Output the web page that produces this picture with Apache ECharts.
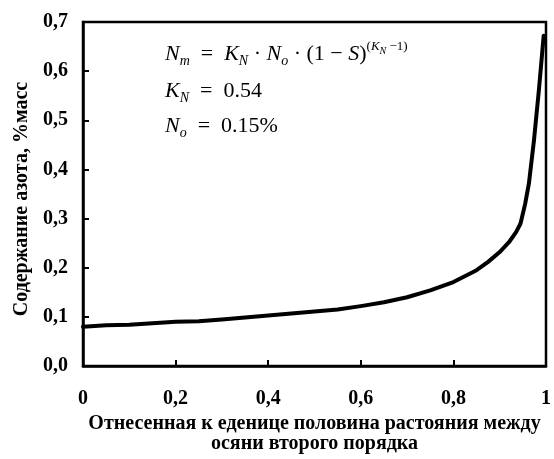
<!DOCTYPE html>
<html>
<head>
<meta charset="utf-8">
<script src="https://cdn.jsdelivr.net/npm/echarts@6/dist/echarts.min.js"></script>
<style>
  html, body { margin: 0; padding: 0; background: #fff; }
  #chart { width: 554px; height: 459px; }
</style>
</head>
<body>
<div id="chart"></div>
<script>
// доля расстояния S и содержание азота, %масс
const sValues = [0, 0.05, 0.1, 0.15, 0.2, 0.25, 0.3, 0.35, 0.4, 0.45, 0.5, 0.55, 0.6, 0.65, 0.7,
    0.75, 0.8, 0.85, 0.875, 0.9, 0.92, 0.935, 0.945, 0.955, 0.963, 0.974, 0.985, 0.995];
const nValues = [0.080, 0.083, 0.084, 0.087, 0.090, 0.091, 0.095, 0.099, 0.103, 0.107, 0.111, 0.115,
    0.122, 0.130, 0.140, 0.154, 0.171, 0.195, 0.212, 0.232, 0.252, 0.272, 0.290, 0.330, 0.371,
    0.459, 0.565, 0.672];

const xTickLabels = ['0', '0,2', '0,4', '0,6', '0,8', '1'];
const yTickLabels = ['0,0', '0,1', '0,2', '0,3', '0,4', '0,5', '0,6', '0,7'];

const FONT = '"Liberation Serif", "Times New Roman", serif';

let myChart = echarts.init(document.getElementById('chart'));

let seriesData = sValues.map((s, i) => [s, nValues[i]]);

// стили для формулы
let eqRich = {
    i: {fontFamily: FONT, fontStyle: 'italic', fontSize: 22, lineHeight: 28},
    r: {fontFamily: FONT, fontSize: 22, lineHeight: 28},
    sub: {fontFamily: FONT, fontStyle: 'italic', fontSize: 14, lineHeight: 28, verticalAlign: 'bottom'},
    sup: {fontFamily: FONT, fontSize: 13, lineHeight: 28, verticalAlign: 'top'},
    supi: {fontFamily: FONT, fontStyle: 'italic', fontSize: 13, lineHeight: 28, verticalAlign: 'top'},
    subsup: {fontFamily: FONT, fontStyle: 'italic', fontSize: 10, lineHeight: 28, verticalAlign: 'top', padding: [6, 0, 0, 0]}
};

let option = {
    animation: false,
    backgroundColor: '#fff',
    grid: {
        left: 83,
        right: 7,
        top: 22,
        bottom: 86,
        show: true,
        borderColor: '#000',
        borderWidth: 2.5
    },
    xAxis: {
        type: 'value',
        min: 0,
        max: 1,
        interval: 0.2,
        splitLine: {show: false},
        axisLine: {lineStyle: {color: '#000', width: 2.5}},
        axisTick: {inside: true, length: 6, lineStyle: {color: '#000', width: 2}},
        axisLabel: {
            margin: 23,
            color: '#000',
            fontFamily: FONT,
            fontWeight: 'bold',
            fontSize: 20,
            formatter: v => xTickLabels[Math.round(v / 0.2)]
        },
        name: 'Отнесенная к еденице половина растояния между\nосяни второго порядка',
        nameLocation: 'middle',
        nameGap: 46,
        nameTextStyle: {
            color: '#000',
            fontFamily: FONT,
            fontWeight: 'bold',
            fontSize: 20,
            lineHeight: 20,
            verticalAlign: 'top'
        }
    },
    yAxis: {
        type: 'value',
        min: 0,
        max: 0.7,
        interval: 0.1,
        splitLine: {show: false},
        axisLine: {lineStyle: {color: '#000', width: 2.5}},
        axisTick: {inside: true, length: 6, lineStyle: {color: '#000', width: 2}},
        axisLabel: {
            margin: 15,
            color: '#000',
            fontFamily: FONT,
            fontWeight: 'bold',
            fontSize: 20,
            formatter: v => yTickLabels[Math.round(v / 0.1)]
        },
        name: 'Содержание азота, %масс',
        nameLocation: 'middle',
        nameGap: 50,
        nameTextStyle: {
            color: '#000',
            fontFamily: FONT,
            fontWeight: 'bold',
            fontSize: 20,
            padding: [0, 10, 0, 0]
        }
    },
    graphic: [
        {
            type: 'text',
            left: 165,
            top: 40,
            style: {
                text: '{i|N}{sub|m}{r|  =  }{i|K}{sub|N}{r| · }{i|N}{sub|o}{r| · (1 − }{i|S}{r|)}{sup|(}{supi|K}{subsup|N}{sup| −1)}',
                rich: eqRich
            }
        },
        {
            type: 'text',
            left: 165,
            top: 80,
            style: {
                text: '{i|K}{sub|N}{r|  =  0.54}',
                rich: eqRich
            }
        },
        {
            type: 'text',
            left: 165,
            top: 115,
            style: {
                text: '{i|N}{sub|o}{r|  =  0.15%}',
                rich: eqRich
            }
        }
    ],
    series: [
        {
            type: 'line',
            data: seriesData,
            showSymbol: false,
            smooth: false,
            lineStyle: {color: '#000', width: 4, cap: 'round', join: 'round'}
        }
    ]
};

myChart.setOption(option);
</script>
</body>
</html>
